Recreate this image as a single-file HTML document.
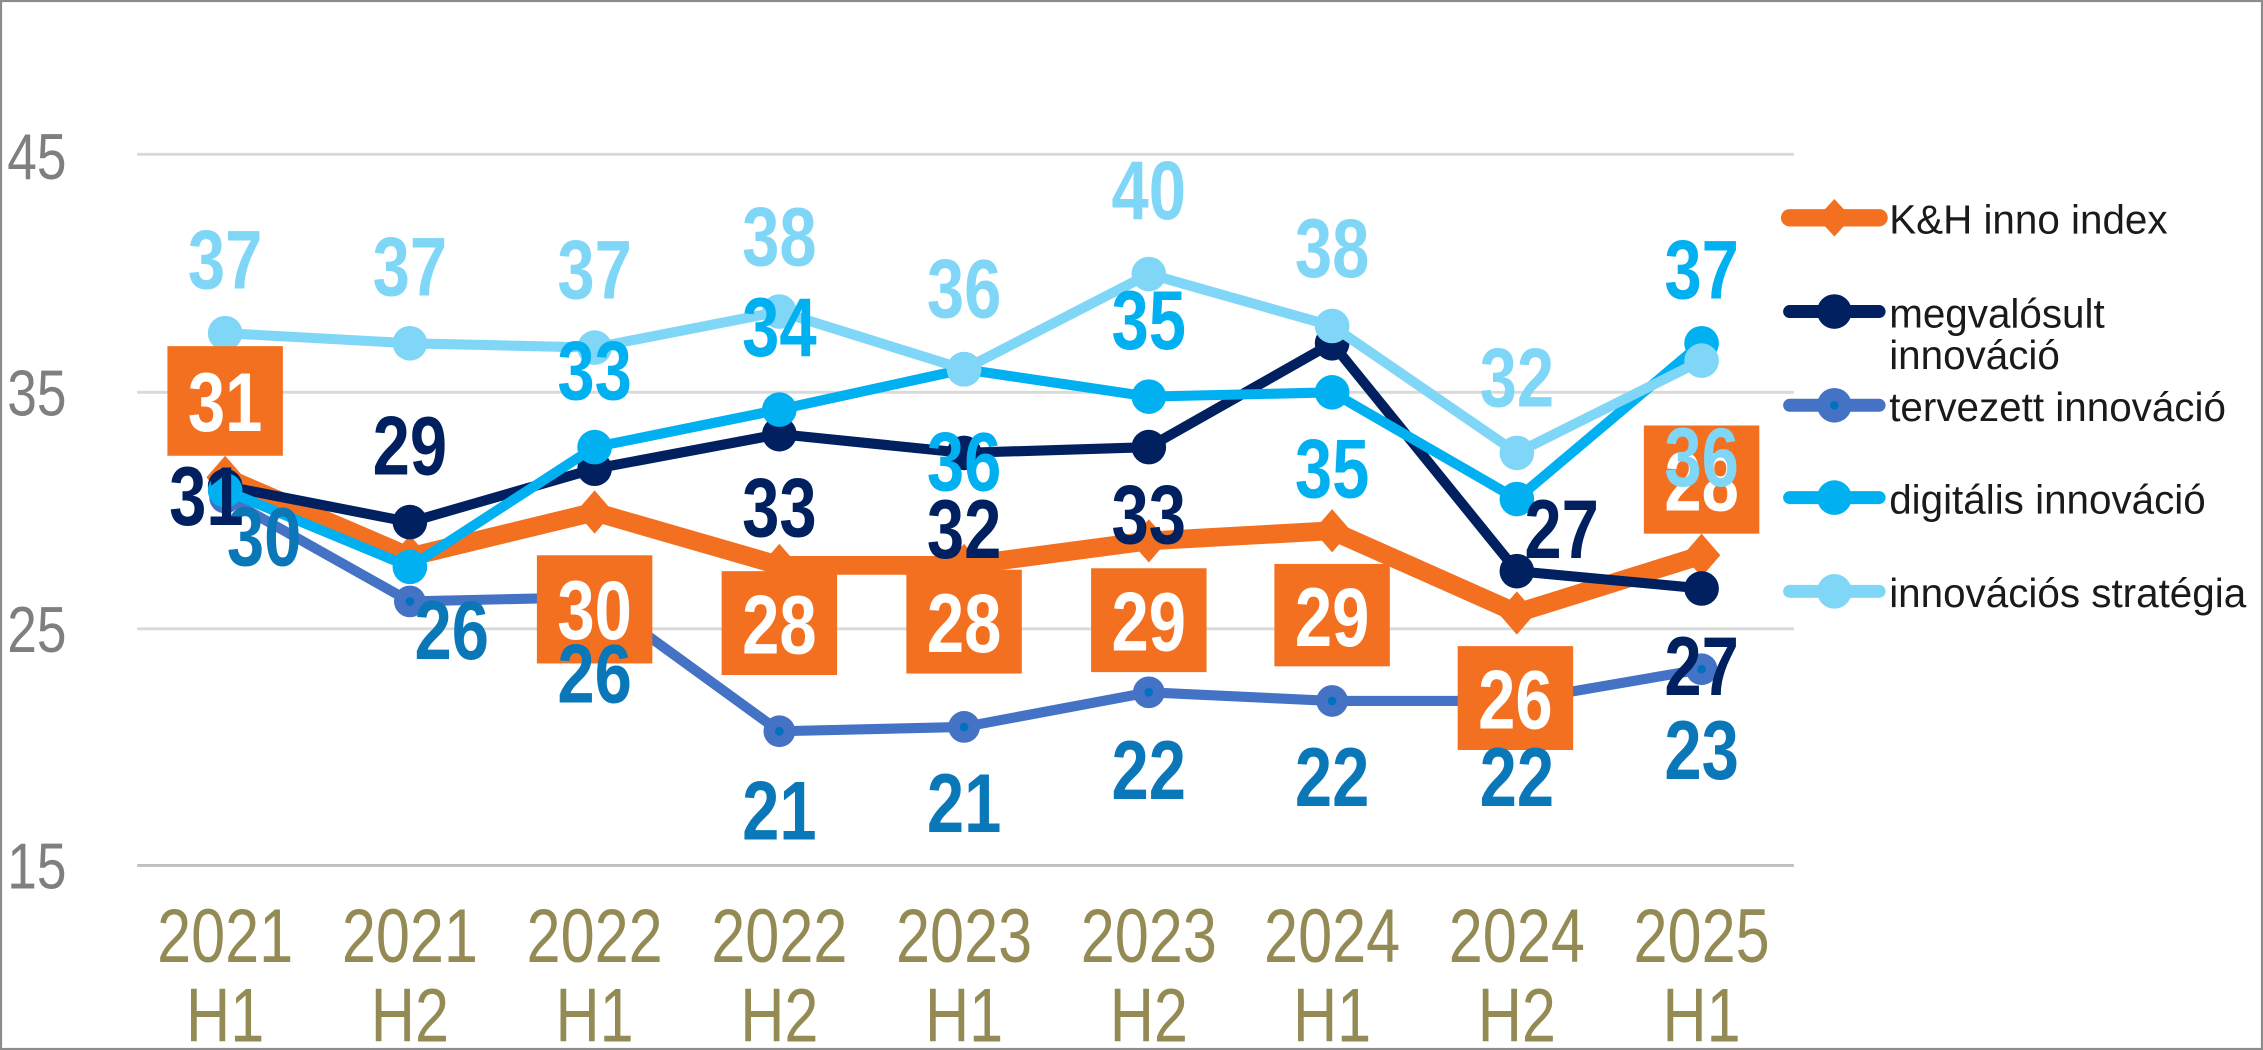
<!DOCTYPE html>
<html><head><meta charset="utf-8"><style>
html,body{margin:0;padding:0;background:#fff;}
svg{display:block;}
text{font-family:"Liberation Sans",Arial,sans-serif;}
.lb{font-weight:bold;font-size:58px;text-anchor:middle;transform:scaleX(0.8);transform-box:fill-box;transform-origin:center;}
.ax{transform:scaleX(0.8);transform-box:fill-box;transform-origin:center;}
.yt{transform:scaleX(0.82);transform-box:fill-box;transform-origin:left;}
</style></head><body>
<svg width="2263" height="1050" viewBox="0 0 1568 728" preserveAspectRatio="none" xmlns="http://www.w3.org/2000/svg">
<rect x="0.7" y="0.7" width="1566.6" height="726.6" fill="#fff" stroke="#8c8c8c" stroke-width="1.5"/>
<g stroke="#d9d9d9" stroke-width="2">
<line x1="95" y1="107" x2="1243" y2="107"/>
<line x1="95" y1="272" x2="1243" y2="272"/>
<line x1="95" y1="436" x2="1243" y2="436"/>
</g>
<line x1="95" y1="600" x2="1243" y2="600" stroke="#bfbfbf" stroke-width="2"/>
<g font-size="45" fill="#7f7f7f">
<text class="yt" x="5" y="124">45</text><text class="yt" x="5" y="288">35</text><text class="yt" x="5" y="452">25</text><text class="yt" x="5" y="616">15</text>
</g>
<g font-size="53" fill="#948a54" text-anchor="middle">
<text class="ax" x="156" y="667">2021</text><text class="ax" x="156" y="722">H1</text>
<text class="ax" x="284" y="667">2021</text><text class="ax" x="284" y="722">H2</text>
<text class="ax" x="412" y="667">2022</text><text class="ax" x="412" y="722">H1</text>
<text class="ax" x="540" y="667">2022</text><text class="ax" x="540" y="722">H2</text>
<text class="ax" x="668" y="667">2023</text><text class="ax" x="668" y="722">H1</text>
<text class="ax" x="796" y="667">2023</text><text class="ax" x="796" y="722">H2</text>
<text class="ax" x="923" y="667">2024</text><text class="ax" x="923" y="722">H1</text>
<text class="ax" x="1051" y="667">2024</text><text class="ax" x="1051" y="722">H2</text>
<text class="ax" x="1179" y="667">2025</text><text class="ax" x="1179" y="722">H1</text>
</g>
<!-- tervezett -->
<polyline fill="none" stroke="#4472c4" stroke-width="7" stroke-linejoin="round" points="156,345 284,417 412,414 540,507 668,504 796,480 923,486 1051,486 1179,464"/>
<g fill="#4472c4"><circle cx="156" cy="345" r="11"/><circle cx="284" cy="417" r="11"/><circle cx="412" cy="414" r="11"/><circle cx="540" cy="507" r="11"/><circle cx="668" cy="504" r="11"/><circle cx="796" cy="480" r="11"/><circle cx="923" cy="486" r="11"/><circle cx="1051" cy="486" r="11"/><circle cx="1179" cy="464" r="11"/></g>
<g fill="#0070c0"><circle cx="156" cy="345" r="3"/><circle cx="284" cy="417" r="3"/><circle cx="412" cy="414" r="3"/><circle cx="540" cy="507" r="3"/><circle cx="668" cy="504" r="3"/><circle cx="796" cy="480" r="3"/><circle cx="923" cy="486" r="3"/><circle cx="1051" cy="486" r="3"/><circle cx="1179" cy="464" r="3"/></g>
<!-- K&H -->
<polyline fill="none" stroke="#f37021" stroke-width="13" stroke-linejoin="round" points="156,331 284,386 412,355 540,392 668,392 796,375 923,368 1051,425 1179,385"/>
<g fill="#f37021">
<polygon points="156,316 169,331 156,346 143,331"/><polygon points="284,371 297,386 284,401 271,386"/><polygon points="412,340 425,355 412,370 399,355"/><polygon points="540,377 553,392 540,407 527,392"/><polygon points="668,377 681,392 668,407 655,392"/><polygon points="796,360 809,375 796,390 783,375"/><polygon points="923,353 936,368 923,383 910,368"/><polygon points="1051,410 1064,425 1051,440 1038,425"/><polygon points="1179,370 1192,385 1179,400 1166,385"/>
</g>
<!-- megvalosult -->
<polyline fill="none" stroke="#002060" stroke-width="7" stroke-linejoin="round" points="156,337 284,362 412,325 540,301 668,314 796,310 923,238 1051,396 1179,408"/>
<g fill="#002060"><circle cx="156" cy="337" r="12"/><circle cx="284" cy="362" r="12"/><circle cx="412" cy="325" r="12"/><circle cx="540" cy="301" r="12"/><circle cx="668" cy="314" r="12"/><circle cx="796" cy="310" r="12"/><circle cx="923" cy="238" r="12"/><circle cx="1051" cy="396" r="12"/><circle cx="1179" cy="408" r="12"/></g>
<!-- digitalis -->
<polyline fill="none" stroke="#00b0f0" stroke-width="7" stroke-linejoin="round" points="156,340 284,393 412,310 540,284 668,256 796,275 923,272 1051,346 1179,238"/>
<g fill="#00b0f0"><circle cx="156" cy="340" r="12"/><circle cx="284" cy="393" r="12"/><circle cx="412" cy="310" r="12"/><circle cx="540" cy="284" r="12"/><circle cx="668" cy="256" r="12"/><circle cx="796" cy="275" r="12"/><circle cx="923" cy="272" r="12"/><circle cx="1051" cy="346" r="12"/><circle cx="1179" cy="238" r="12"/></g>
<!-- strategia -->
<polyline fill="none" stroke="#80d6f6" stroke-width="7" stroke-linejoin="round" points="156,231 284,238 412,241 540,216 668,256 796,190 923,226 1051,314 1179,250"/>
<g fill="#80d6f6"><circle cx="156" cy="231" r="12"/><circle cx="284" cy="238" r="12"/><circle cx="412" cy="241" r="12"/><circle cx="540" cy="216" r="12"/><circle cx="668" cy="256" r="12"/><circle cx="796" cy="190" r="12"/><circle cx="923" cy="226" r="12"/><circle cx="1051" cy="314" r="12"/><circle cx="1179" cy="250" r="12"/></g>
<!-- orange boxes -->
<g fill="#f37021">
<rect x="116" y="240" width="80" height="76"/><rect x="372" y="385" width="80" height="75"/><rect x="500" y="396" width="80" height="72"/><rect x="628" y="395" width="80" height="72"/><rect x="756" y="394" width="80" height="72"/><rect x="883" y="391" width="80" height="71"/><rect x="1010" y="448" width="80" height="72"/><rect x="1139" y="295" width="80" height="75"/>
</g>
<g fill="#fff">
<text x="156" y="299" class="lb">31</text><text x="412" y="443" class="lb">30</text><text x="540" y="453" class="lb">28</text><text x="668" y="452" class="lb">28</text><text x="796" y="451" class="lb">29</text><text x="923" y="448" class="lb">29</text><text x="1050" y="505" class="lb">26</text><text x="1179" y="354" class="lb">28</text>
</g>
<!-- strategia labels -->
<g fill="#80d6f6">
<text class="lb" x="156" y="200">37</text><text class="lb" x="284" y="205">37</text><text class="lb" x="412" y="207">37</text><text class="lb" x="540" y="184">38</text><text class="lb" x="668" y="220">36</text><text class="lb" x="796" y="152">40</text><text class="lb" x="923" y="192">38</text><text class="lb" x="1051" y="282">32</text><text class="lb" x="1179" y="337">36</text>
</g>
<g fill="#00b0f0">
<text class="lb" x="412" y="277">33</text><text class="lb" x="540" y="247">34</text><text class="lb" x="668" y="340">36</text><text class="lb" x="796" y="242">35</text><text class="lb" x="923" y="345">35</text><text class="lb" x="1179" y="207">37</text>
</g>
<g fill="#0a78b8">
<text class="lb" x="183" y="392">30</text><text class="lb" x="313" y="457">26</text><text class="lb" x="412" y="487">26</text><text class="lb" x="540" y="582">21</text><text class="lb" x="668" y="577">21</text><text class="lb" x="796" y="554">22</text><text class="lb" x="923" y="559">22</text><text class="lb" x="1051" y="559">22</text><text class="lb" x="1179" y="540">23</text>
</g>
<g fill="#002060">
<text class="lb" x="143" y="364">31</text><text class="lb" x="284" y="329">29</text><text class="lb" x="540" y="372">33</text><text class="lb" x="668" y="387">32</text><text class="lb" x="796" y="377">33</text><text class="lb" x="1082" y="387">27</text><text class="lb" x="1179" y="482">27</text>
</g>
<!-- legend -->
<g stroke-linecap="round" stroke-width="12">
<line x1="1240" y1="151" x2="1302" y2="151" stroke="#f37021"/>
<line x1="1240" y1="216" x2="1302" y2="216" stroke="#002060" stroke-width="9"/>
<line x1="1240" y1="281" x2="1302" y2="281" stroke="#4472c4" stroke-width="9"/>
<line x1="1240" y1="345" x2="1302" y2="345" stroke="#00b0f0" stroke-width="9"/>
<line x1="1240" y1="410" x2="1302" y2="410" stroke="#80d6f6" stroke-width="9"/>
</g>
<polygon points="1271,138 1283,151 1271,164 1259,151" fill="#f37021"/>
<circle cx="1271" cy="216" r="12" fill="#002060"/>
<circle cx="1271" cy="281" r="12" fill="#4472c4"/><circle cx="1271" cy="281" r="3" fill="#0070c0"/>
<circle cx="1271" cy="345" r="12" fill="#00b0f0"/>
<circle cx="1271" cy="410" r="12" fill="#80d6f6"/>
<g font-size="28" fill="#1a1a1a">
<text x="1309" y="162">K&amp;H inno index</text>
<text x="1309" y="227">megvalósult</text>
<text x="1309" y="256">innováció</text>
<text x="1309" y="292">tervezett innováció</text>
<text x="1309" y="356">digitális innováció</text>
<text x="1309" y="421">innovációs stratégia</text>
</g>
</svg>
</body></html>
